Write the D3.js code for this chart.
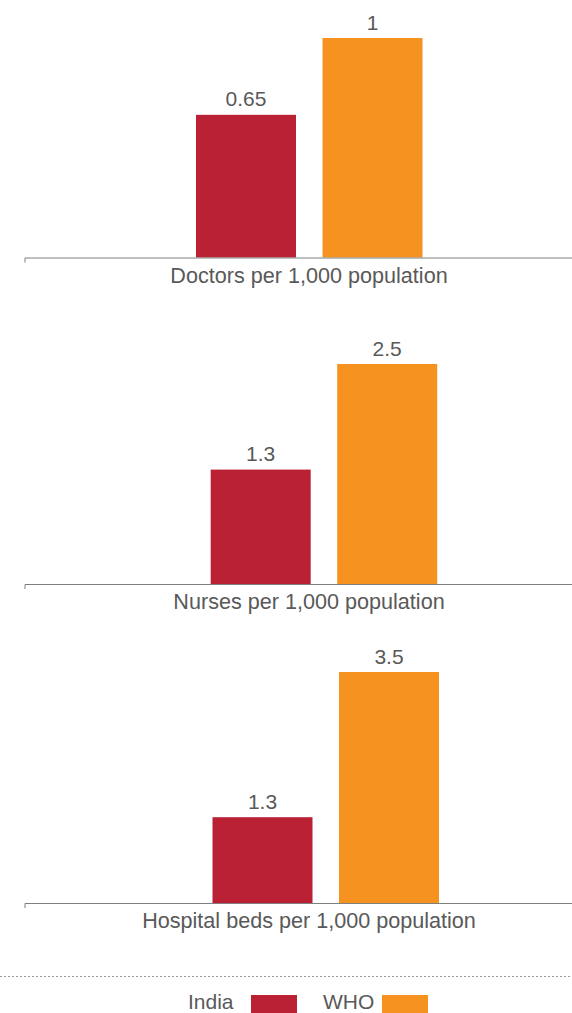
<!DOCTYPE html>
<html>
<head>
<meta charset="utf-8">
<script src="https://cdn.jsdelivr.net/npm/d3@7/dist/d3.min.js"></script>
<style>
  html, body { margin: 0; padding: 0; background: #fff; }
  svg { display: block; }
  text { font-family: "Liberation Sans", Arial, Helvetica, sans-serif; fill: #595959; }
</style>
</head>
<body>
<svg id="chart" width="572" height="1013"></svg>
<script>
// ---- data ----
const series = ["India", "WHO"];
const metrics = ["Doctors per 1,000 population", "Nurses per 1,000 population", "Hospital beds per 1,000 population"];
const indiaValues = [0.65, 1.3, 1.3];
const whoValues = [1, 2.5, 3.5];
const valueLabels = [["0.65", "1"], ["1.3", "2.5"], ["1.3", "3.5"]];
const colors = ["#BA2135", "#F69320"];

// ---- layout ----
const W = 572, H = 1013;
const panels = [
  { axisY: 257.5, barX0: 196,   topH: 219.5 },
  { axisY: 584,   barX0: 210.7, topH: 220 },
  { axisY: 903,   barX0: 212.5, topH: 231 }
];
const barW = 100, barGap = 26.5;
const axisX0 = 25, axisX1 = 592;

const svg = d3.select("#chart");
const color = d3.scaleOrdinal().domain(series).range(colors);

metrics.forEach((m, i) => {
  const p = panels[i];
  const vals = [indiaValues[i], whoValues[i]];
  const data = series.map((s, j) => ({ s, v: vals[j], label: valueLabels[i][j] }));
  const x = d3.scaleBand().domain(series)
    .range([p.barX0, p.barX0 + 2 * barW + barGap])
    .paddingInner(barGap / (barW + barGap)).paddingOuter(0);
  const y = d3.scaleLinear().domain([0, d3.max(vals)]).range([p.axisY, p.axisY - p.topH]);

  const g = svg.append("g");
  g.selectAll("rect").data(data).join("rect")
    .attr("x", d => x(d.s)).attr("width", x.bandwidth())
    .attr("y", d => y(d.v)).attr("height", d => y(0) - y(d.v))
    .attr("fill", d => color(d.s));
  g.selectAll("text.val").data(data).join("text")
    .attr("class", "val")
    .attr("x", d => x(d.s) + x.bandwidth() / 2)
    .attr("y", d => y(d.v) - 8.5)
    .attr("text-anchor", "middle")
    .style("font-size", "21px")
    .text(d => d.label);

  // category axis
  const xa = d3.scalePoint().domain([m]).range([axisX0, axisX1]).padding(0.5);
  const axisG = g.append("g").attr("transform", `translate(0,${p.axisY})`)
    .call(d3.axisBottom(xa).tickSize(0).tickPadding(10));
  axisG.select(".domain").remove();
  axisG.selectAll("text").style("font-size", "21.6px").attr("fill", "#595959")
    .style("font-family", "'Liberation Sans', Arial, sans-serif");
  axisG.append("path").attr("d", `M${axisX0},5V0.5H${axisX1}`)
    .attr("fill", "none").attr("stroke", "#808080").attr("stroke-width", 1);
});

// dotted separator
svg.append("line").attr("x1", 0).attr("x2", W).attr("y1", 976.5).attr("y2", 976.5)
  .attr("stroke", "#999").attr("stroke-width", 1).attr("stroke-dasharray", "2,2");

// legend
const legendItems = [
  { s: "India", tx: 188, rx: 251 },
  { s: "WHO", tx: 323, rx: 382 }
];
const lg = svg.append("g");
legendItems.forEach(it => {
  lg.append("text").attr("x", it.tx).attr("y", 1009).style("font-size", "21px").text(it.s);
  lg.append("rect").attr("x", it.rx).attr("y", 995).attr("width", 46).attr("height", 20)
    .attr("fill", color(it.s));
});
</script>
</body>
</html>
